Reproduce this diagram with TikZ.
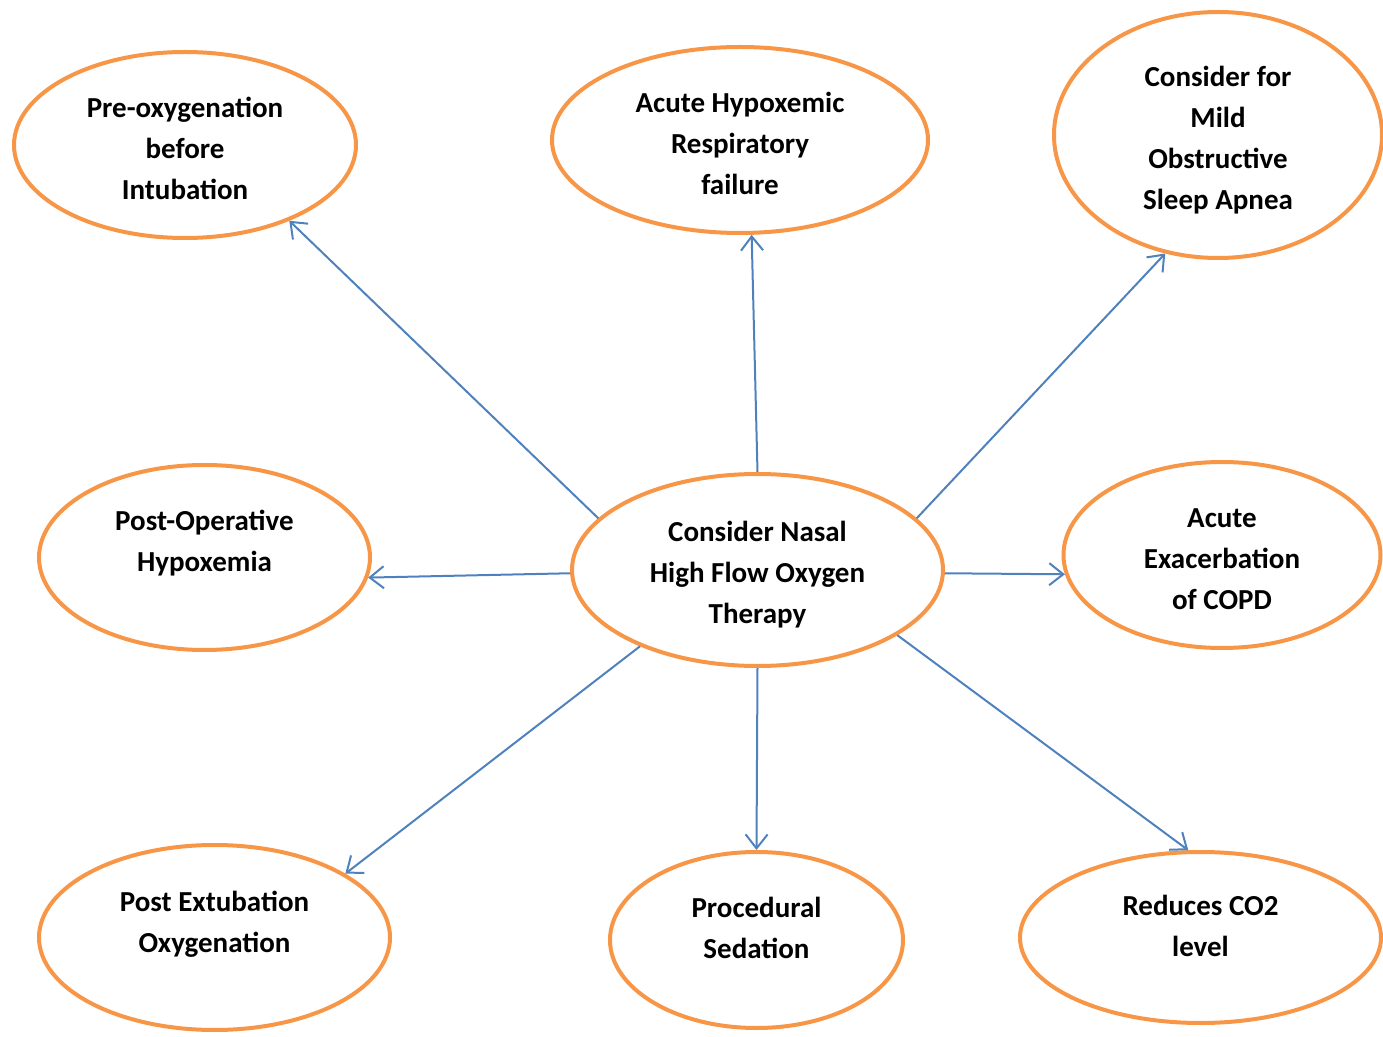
\documentclass[tikz,border=0pt]{standalone}
\usepackage{fontspec}
\setmainfont{Carlito}
\usepackage{tikz}
\usetikzlibrary{arrows.meta}
\usetikzlibrary{shapes.geometric}
\definecolor{ringorange}{HTML}{F79646}
\definecolor{linkblue}{HTML}{4F81BD}
\newcommand{\bubbletext}[2]{\raisebox{#1}[0pt][0pt]{\begin{tabular}{@{}c@{}}#2\end{tabular}}}

\begin{document}
\begin{tikzpicture}[x=0.5pt,y=-0.5pt,>={Straight Barb[length=7pt,width=11pt]},
			bubble/.style={ellipse,draw=ringorange,line width=2pt,inner sep=0pt,
				font=\fontsize{14.5}{20.5}\selectfont\bfseries},
			link/.style={draw=linkblue,line width=1pt,->}]
			\useasboundingbox (0,0) rectangle (1383,1037);
			
			\node[bubble,minimum width=171pt,minimum height=93pt] (preox) at (185,145) {\bubbletext{-6.5pt}{Pre-oxygenation\\before\\Intubation}};
			\node[bubble,minimum width=188pt,minimum height=93pt] (hypox) at (740,140) {\bubbletext{-6.5pt}{Acute Hypoxemic\\Respiratory\\failure}};
			\node[bubble,minimum width=164pt,minimum height=123pt] (osa) at (1218,135) {\bubbletext{-6pt}{Consider for\\Mild\\Obstructive\\Sleep Apnea}};
			\node[bubble,minimum width=165.5pt,minimum height=92.5pt] (postop) at (204.5,557.5) {\bubbletext{3.5pt}{Post-Operative\\Hypoxemia}};
			\node[bubble,minimum width=185.5pt,minimum height=96pt] (hfot) at (757.5,570) {\bubbletext{-6pt}{Consider Nasal\\High Flow Oxygen\\Therapy}};
			\node[bubble,minimum width=158.5pt,minimum height=93pt] (copd) at (1222,555) {\bubbletext{-6.5pt}{Acute\\Exacerbation\\of COPD}};
			\node[bubble,minimum width=175.5pt,minimum height=92.5pt] (postext) at (214.5,937.5) {\bubbletext{3.5pt}{Post Extubation\\Oxygenation}};
			\node[bubble,minimum width=146.5pt,minimum height=88pt] (sedation) at (756.5,940) {\bubbletext{1.5pt}{Procedural\\Sedation}};
			\node[bubble,minimum width=180.5pt,minimum height=85.5pt] (co2) at (1200.5,937.5) {\bubbletext{1.5pt}{Reduces CO2\\level}};
			
			\path[every edge/.style=link]
			(hfot.162) edge (preox.324)
			(hfot.90) edge (hypox.277)
			(hfot.18) edge (osa.246)
			(hfot.181) edge (postop.353)
			(hfot.359) edge (copd.187)
			(hfot.213) edge (postext.26)
			(hfot.270) edge (sedation.90)
			(hfot.335) edge (co2.98);
		\end{tikzpicture}
\end{document}
